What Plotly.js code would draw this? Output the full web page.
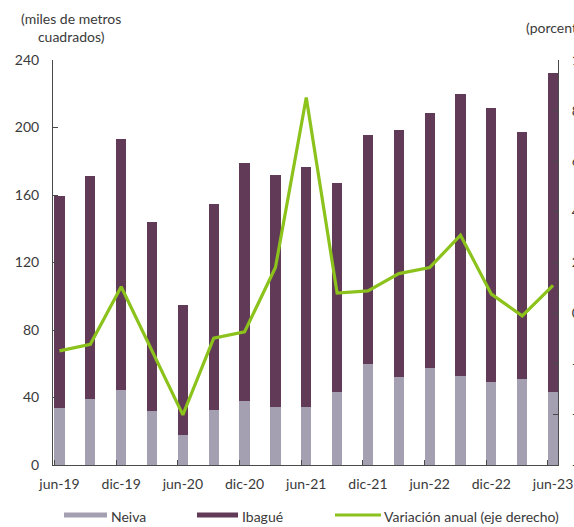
<!DOCTYPE html>
<html>
<head>
<meta charset="utf-8">
<script src="https://cdn.plot.ly/plotly-3.0.1.min.js"></script>
<style>html,body{margin:0;padding:0;background:#fff;}#chart{width:574px;height:527px;}</style>
</head>
<body>
<div id="chart"></div>
<script>
var periods = ["jun-19","sep-19","dic-19","mar-20","jun-20","sep-20","dic-20","mar-21","jun-21","sep-21","dic-21","mar-22","jun-22","sep-22","dic-22","mar-23","jun-23"];
var tickLabels = ["jun-19","dic-19","jun-20","dic-20","jun-21","dic-21","jun-22","dic-22","jun-23"];
var neiva = [33.6, 39.3, 44.4, 32.0, 17.8, 32.6, 38.1, 34.4, 34.4, 43.3, 59.7, 52.1, 57.7, 52.7, 49.0, 50.8, 43.3];
var ibague = [125.8, 132.2, 148.6, 112.2, 77.2, 121.9, 140.9, 137.6, 142.0, 123.6, 135.7, 146.4, 151.1, 166.9, 162.3, 146.5, 188.8];
var variacion = [-14.9, -12.3, 10.4, -15.0, -40.2, -9.9, -7.4, 18.0, 85.2, 7.9, 8.8, 15.6, 18.0, 30.8, 7.5, -1.1, 11.0];

var BAR_W = 0.33;
var XR = [-0.21, periods.length - 1 + 0.16];
var font = {family: "Lato, 'Open Sans', sans-serif", size: 14, color: "#3a3a3a"};
var axisColor = "#4a4a4a";
var cNeiva = "#a59fb2", cIbague = "#603a56", cLine = "#8cc21c";

var tickPos = [];
periods.forEach(function(p, i){ if (tickLabels.indexOf(p) >= 0) tickPos.push(i - BAR_W/2); });

var traces = [
  {type:"bar", name:"Neiva", x:periods, y:neiva, marker:{color:cNeiva}, width:BAR_W, showlegend:false, hoverinfo:"skip"},
  {type:"bar", name:"Ibagué", x:periods, y:ibague, marker:{color:cIbague}, width:BAR_W, showlegend:false, hoverinfo:"skip"},
  {type:"scatter", mode:"lines", name:"Variación anual (eje derecho)", x:periods, y:variacion, yaxis:"y2",
   line:{color:cLine, width:3.2}, showlegend:false, hoverinfo:"skip"},
  {type:"scatter", mode:"markers", x:[0], y:[0], xaxis:"x2", yaxis:"y", marker:{opacity:0}, showlegend:false, hoverinfo:"skip"}
];

function px2x(p){ return (p - 53) / 505; }
function px2y(p){ return (465 - p) / 405; }

var legY = 515;
var shapes = [
  {type:"rect", xref:"paper", yref:"paper", x0:px2x(64), x1:px2x(107), y0:px2y(legY-2.5), y1:px2y(legY+2.5), fillcolor:cNeiva, line:{width:0}},
  {type:"rect", xref:"paper", yref:"paper", x0:px2x(197), x1:px2x(238), y0:px2y(legY-2.5), y1:px2y(legY+2.5), fillcolor:cIbague, line:{width:0}},
  {type:"line", xref:"paper", yref:"paper", x0:px2x(335), x1:px2x(381), y0:px2y(legY), y1:px2y(legY), line:{color:cLine, width:3}}
];

var annotations = [
  {xref:"paper", yref:"paper", x:px2x(71), y:px2y(27), xanchor:"center", yanchor:"middle", showarrow:false,
   text:"(miles de metros<br>cuadrados)", font:font},
  {xref:"paper", yref:"paper", x:px2x(524), y:px2y(27), xanchor:"left", yanchor:"middle", showarrow:false,
   text:"(porcentaje)", font:font},
  {xref:"paper", yref:"paper", x:px2x(109), y:px2y(legY+1), xanchor:"left", yanchor:"middle", showarrow:false, text:"Neiva", font:font},
  {xref:"paper", yref:"paper", x:px2x(240), y:px2y(legY+1), xanchor:"left", yanchor:"middle", showarrow:false, text:"Ibagué", font:font},
  {xref:"paper", yref:"paper", x:px2x(382), y:px2y(legY+1), xanchor:"left", yanchor:"middle", showarrow:false, text:"Variación anual (eje derecho)", font:font}
];

var layout = {
  width:574, height:527,
  margin:{l:53, r:16, t:60, b:62, pad:0},
  paper_bgcolor:"#ffffff", plot_bgcolor:"#ffffff",
  font:font,
  barmode:"stack",
  showlegend:false,
  xaxis:{type:"category", categoryorder:"array", categoryarray:periods, range:XR,
         tickmode:"array", tickvals:tickLabels, ticktext:tickLabels, ticks:"",
         showline:true, linecolor:axisColor, linewidth:1, showgrid:false, zeroline:false,
         ticklabelstandoff:6, automargin:false, tickfont:font},
  xaxis2:{overlaying:"x", anchor:"y", type:"linear", range:XR, tickmode:"array", tickvals:tickPos,
          ticks:"inside", ticklen:5, tickcolor:axisColor, showticklabels:false, showline:false,
          showgrid:false, zeroline:false, side:"bottom"},
  yaxis:{range:[0,240], tickmode:"linear", tick0:0, dtick:40, ticks:"inside", ticklen:5, tickcolor:axisColor,
         showline:true, linecolor:axisColor, linewidth:1, showgrid:false, zeroline:false,
         ticklabelstandoff:10, automargin:false, tickfont:font},
  yaxis2:{overlaying:"y", side:"right", anchor:"x", range:[-60,100], tickmode:"linear", tick0:-60, dtick:20,
          ticks:"inside", ticklen:5, tickcolor:axisColor, showline:true, linecolor:axisColor, linewidth:1,
          showgrid:false, zeroline:false, ticklabelstandoff:10, automargin:false, tickfont:font},
  shapes:shapes,
  annotations:annotations
};

Plotly.newPlot("chart", traces, layout, {staticPlot:true, displayModeBar:false});
</script>
</body>
</html>
